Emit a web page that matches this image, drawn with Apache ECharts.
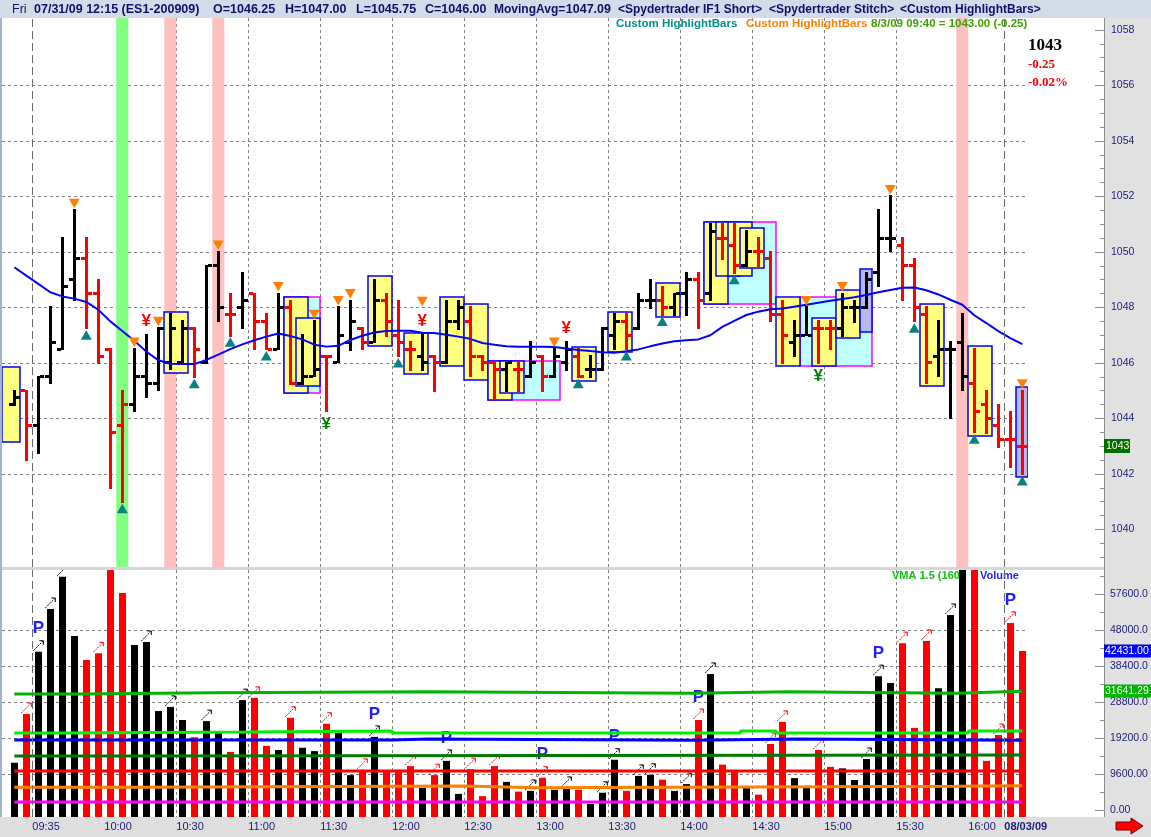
<!DOCTYPE html>
<html><head><meta charset="utf-8">
<script src="https://cdn.jsdelivr.net/npm/echarts@6/dist/echarts.min.js"></script>
<style>html,body{margin:0;padding:0;background:#fff;overflow:hidden}
.bg{position:absolute}</style>
</head><body>
<div style="position:relative;width:1151px;height:837px;background:#fff">
 <div class="bg" style="left:0;top:0;width:1151px;height:18px;background:#d3dae8"></div>
 <div class="bg" style="left:1104px;top:18px;width:47px;height:799px;background:#e1e1e1"></div>
 <div class="bg" style="left:0;top:567px;width:1104px;height:3px;background:#d6d6d6"></div>
 <div class="bg" style="left:0;top:817px;width:1151px;height:20px;background:#dedede"></div>
 <div class="bg" style="left:0;top:18px;width:2px;height:799px;background:#a4b4cc"></div>
 <div id="chart" style="position:absolute;left:0;top:0;width:1151px;height:837px"></div>
</div>
<script>
// ---------------- DATA ----------------
const timeLabels = ['09:35','10:00','10:30','11:00','11:30','12:00','12:30','13:00','13:30','14:00','14:30','15:00','15:30','16:00','08/03/09'];
const timeLabelPos = [1.5,7.5,13.5,19.5,25.5,31.5,37.5,43.5,49.5,55.5,61.5,67.5,73.5,79.5,82.5];
const gridTimePos = [7.5,13.5,19.5,25.5,31.5,37.5,43.5,49.5,55.5,61.5,67.5,73.5,79.5];
const sessionBreaks = [1.5,82.5];
const priceTicks = [1040,1042,1044,1046,1048,1050,1052,1054,1056,1058];
const volumeTicks = [0,9600,19200,28800,38400,48000,57600];

const opens = [1044.5,1045,1043.75,1045.5,1046.5,1049,1049.75,1048.5,1046.5,1043.75,
 1044.5,1045.5,1045.25,1046,1046,1047.25,1046,1049.5,1047.75,1048,
 1048.5,1047.5,1046.5,1048,1045.25,1045.5,1046.25,1046,1046.75,1047.25,
 1046.75,1048.25,1047,1046.5,1046.25,1046.25,1046,1047.5,1047.5,1046.25,
 1046,1045.75,1045.75,1045.5,1046.25,1045.5,1046,1046.25,1045.75,1045.75,
 1047,1047.5,1047.25,1048.25,1048.25,1048,1048.5,1049,1048.5,1050.5,
 1050.25,1049.5,1050,1049.75,1047.75,1046.75,1047,1047.25,1047.25,1047.25,
 1048,1048,1049.25,1050.5,1050.25,1049.5,1047.75,1046.25,1046.5,1046.75,
 1045.25,1044.5,1043.75,1043.25,1043];
const highs = [1045,1045,1045.5,1048,1050.5,1051.5,1050.5,1049,1046.5,1045,
 1046.5,1047,1047.25,1047.75,1047.5,1047.25,1049.5,1050,1048.5,1049.25,
 1048.5,1047.75,1048.5,1048.25,1047,1047.5,1046.25,1048,1048.25,1047.25,
 1049,1048.5,1048.25,1046.75,1047,1046.25,1048.25,1048.25,1048,1046.25,
 1046,1046,1046,1046.75,1046.25,1046.5,1046.75,1046.5,1046.25,1047.25,
 1047.75,1047.75,1048.5,1049,1048.75,1048.5,1049.25,1049.25,1051,1051,
 1051,1050.75,1050.5,1050,1048.25,1047.5,1048,1047.5,1047.5,1048.5,
 1048.25,1049.25,1051.5,1052,1050.5,1049.75,1048,1047.5,1046.75,1047.75,
 1046.5,1045,1044.5,1044.25,1045];
const lows = [1044.5,1042.5,1042.75,1045.25,1046.5,1048.25,1047.25,1046,1041.5,1041,
 1044.25,1044.75,1045,1045.75,1046,1045.5,1046,1047.5,1047,1047.25,
 1046.5,1046.5,1046.5,1045.25,1045.25,1045.5,1044.25,1046,1046.5,1046.5,
 1046.75,1047,1046.25,1045.75,1045.75,1045,1046,1047.25,1045.5,1045.75,
 1044.75,1045,1045,1045.5,1045,1045.5,1045.75,1045.5,1045.5,1045.75,
 1046.5,1046.5,1047.25,1048,1047.75,1047.75,1047.75,1047.25,1048.25,1049.75,
 1049.25,1049.5,1049.5,1047.5,1046,1046.25,1047,1046,1046.5,1047,
 1047.5,1048,1048.75,1050,1048.25,1047.5,1045.25,1045.5,1044,1045,
 1043.5,1043.5,1043,1042.25,1042];
const closes = [1044.75,1043.75,1045.5,1046.75,1048.75,1049.75,1048.5,1046.25,1043.5,1044.5,
 1045.5,1045.25,1047.25,1047.25,1047.25,1046.5,1049.5,1048,1047.75,1048.25,
 1047.5,1046.5,1048,1045.25,1045.5,1045.75,1046.25,1047,1047.5,1046.75,
 1048.25,1047.5,1046.75,1046.5,1046,1046,1047.5,1048,1046.25,1046,
 1045.75,1046,1045.75,1046,1045.5,1046.25,1046.5,1045.5,1045.75,1047.25,
 1047.5,1047,1048.25,1048.25,1048,1048.5,1049,1048.25,1050.75,1050.5,
 1049.5,1050,1050,1047.75,1047,1047,1047,1047.25,1047.25,1048,
 1048,1049,1050.5,1050.5,1049.5,1048,1046,1046.5,1046.5,1045.5,
 1044.25,1044,1043.25,1043.25,1043];
// 1 = black bar, -1 = red bar
const dirs = [1,-1,1,1,1,1,-1,-1,-1,-1,
 1,1,1,1,1,-1,1,1,-1,1,
 -1,-1,1,-1,1,1,-1,1,1,-1,
 1,-1,-1,-1,1,-1,1,1,-1,-1,
 -1,1,-1,1,-1,1,1,-1,1,1,
 1,-1,1,1,-1,1,1,-1,1,-1,
 -1,1,-1,-1,-1,1,1,-1,-1,1,
 1,1,1,1,-1,-1,-1,1,1,1,
 -1,-1,-1,-1,-1];
const movingAvg = [1049.45,1049.15,1048.85,1048.55,1048.40,1048.32,1048.20,1047.92,1047.50,1047.15,
 1046.80,1046.41,1046.10,1045.97,1045.96,1045.96,1046.11,1046.30,1046.50,1046.67,
 1046.82,1046.95,1047.06,1046.97,1046.85,1046.66,1046.59,1046.62,1046.83,1046.98,
 1047.10,1047.15,1047.16,1047.16,1047.09,1047.08,1047.02,1046.95,1046.87,1046.72,
 1046.66,1046.60,1046.59,1046.59,1046.59,1046.58,1046.52,1046.47,1046.43,1046.39,
 1046.37,1046.42,1046.49,1046.60,1046.70,1046.78,1046.82,1046.85,1047.00,1047.30,
 1047.52,1047.73,1047.85,1047.94,1047.96,1048.03,1048.10,1048.17,1048.24,1048.31,
 1048.37,1048.45,1048.55,1048.63,1048.71,1048.72,1048.62,1048.47,1048.28,1048.10,
 1047.72,1047.44,1047.15,1046.90,1046.68];
const volumes = [12600,25600,42200,53600,62200,46400,40000,41800,66000,57900,
 44000,44800,26400,27500,24000,19400,23700,20500,15500,29300,
 29900,17100,16000,24600,16600,15700,23000,20600,9300,10700,
 19500,10500,10700,11700,5900,9300,13100,4300,10900,3700,
 11700,7500,4900,5100,8600,5400,5900,5400,1600,4600,
 13400,5100,9100,9400,8100,5100,6900,24000,36300,12100,
 10500,5900,4100,17600,23500,8500,5900,16000,11500,11100,
 8000,13600,35700,33900,44500,21900,45100,32500,52000,68000,
 75000,13100,20000,49900,42431];

// volume indicator step lines: [bar, value]
const vmaUpper = [[0,30933],[5.5,31280],[16.5,31547],[34.5,31120],[56.5,31547],[64.5,31120],[78.5,31641.29],[84,31641.29]];
const vmaFast = [[0,20533],[3.5,20800],[19.5,21067],[31.5,20533],[60.5,21067],[63.5,20533],[79.5,21067],[84,21067]];
const vmaBlue = [[0,18667],[31.5,18933],[34.5,18587],[56.5,18933],[65.5,18587],[84,18587]];
const vmaLower = [[0,14400],[7.5,14667],[84,14667]];
const vmaRed = [[0,10400],[84,10400]];
const vmaOrange = [[0,6053],[10.5,6400],[37.5,5947],[43.5,6320],[78.5,6480],[84,6480]];
const vmaMagenta = [[0,2133],[84,2133]];

// highlight boxes: [fromBar, toBar, topPrice, bottomPrice, kind]
const highlightBoxes = [
 [23,25,1048.37,1044.91,'c'],[40,45,1046.08,1044.66,'c'],[58,63,1051.09,1048.15,'c'],[66,71,1048.37,1045.87,'c'],
 [-0.5,0,1045.86,1043.15,'y'],[13,14,1047.84,1045.63,'y'],[23,24,1048.37,1044.91,'y'],[24,25,1047.61,1045.15,'y'],
 [30,31,1049.14,1046.62,'y'],[33,34,1047.09,1045.63,'y'],[36,37,1048.37,1045.87,'y'],[38,39,1048.12,1045.39,'y'],
 [40,41,1046.08,1044.66,'y'],[41,42,1046.08,1044.91,'y'],[47,48,1046.59,1045.38,'y'],[50,51,1047.85,1046.41,'y'],
 [54,55,1048.87,1047.65,'y'],[58,59,1051.09,1048.15,'y'],[59,60,1051.09,1049.16,'y'],[60,61,1051.09,1049.16,'y'],
 [61,62,1050.85,1049.41,'y'],[64,65,1048.37,1045.87,'y'],[67,68,1047.61,1045.87,'y'],[69,70,1048.63,1046.89,'y'],
 [76,77,1048.12,1045.15,'y'],[80,81,1046.61,1043.38,'y'],
 [71,71,1049.39,1047.13,'l'],[84,84,1045.12,1041.88,'l']
];
const greenBands = [9];
const pinkBands = [13,17,79];
const buyTriangles = [6,9,15,18,21,32,47,51,54,60,75,80,84];
const sellTriangles = [5,10,12,17,22,25,27,28,34,45,66,69,73,84];
const redYen = [11,34,46];
const greenYen = [26,67];
const volArrows = [1,2,3,4,7,11,13,16,19,20,23,26,29,30,33,35,36,38,40,43,44,46,49,50,52,53,56,57,58,63,64,67,71,72,74,76,78,82,83];
const volP = [2,30,36,44,50,57,72,83];

// ---------------- CHART ----------------
const X_MIN = -1.025, X_MAX = 84.433;
const P_MIN = 1038.6486, P_MAX = 1058.4324;
const V_MIN = -1866.67, V_MAX = 64000;
const NAVY = '#1c1c7c';
const FF = '"Liberation Sans", Arial, sans-serif';
const priceMinor = []; for (let v = 1039; v <= 1058; v += 0.5) priceMinor.push(v);
const volMinor = []; for (let v = 4800; v < 64000; v += 9600) volMinor.push(v);
const gridDash = {color:'#808080', type:[3,3], width:1};
function sessionLine(){
  return {silent:true, symbol:['none','none'], label:{show:false}, lineStyle:{color:'#6a6a6a', type:[8,4], width:1},
    data: sessionBreaks.map(v => ({xAxis: v}))};
}

const chart = echarts.init(document.getElementById('chart'));

function colorOf(i){ return dirs[i] > 0 ? '#000000' : '#ff0000'; }

function bandRender(color){
  return function(params, api){
    const i = api.value(0);
    const a = api.coord([i - 0.5, P_MAX]), b = api.coord([i + 0.5, P_MIN]);
    return {type:'rect', shape:{x:a[0], y:a[1], width:b[0]-a[0], height:b[1]-a[1]}, style:{fill:color}};
  };
}
function boxRender(params, api){
  const bx = highlightBoxes[params.dataIndex];
  const p0 = api.coord([bx[0] - 0.5, bx[2]]), p1 = api.coord([bx[1] + 0.5, bx[3]]);
  const k = bx[4];
  const st = k === 'c' ? {fill:'#c0ffff', stroke:'#ff00ff'} : (k === 'l' ? {fill:'#b8b8f0', stroke:'#0000ff'} : {fill:'#ffff80', stroke:'#0000ff'});
  st.lineWidth = 1.5;
  return {type:'rect', shape:{x:Math.round(p0[0]), y:Math.round(p0[1]), width:Math.round(p1[0]-p0[0]), height:Math.round(p1[1]-p0[1])}, style:st};
}
function ohlcRender(params, api){
  const i = api.value(0);
  const pO = api.coord([i, api.value(1)]), pH = api.coord([i, api.value(2)]);
  const pL = api.coord([i, api.value(3)]), pC = api.coord([i, api.value(4)]);
  const col = colorOf(i);
  const x = Math.round(pH[0] - 1.5);
  return {type:'group', children:[
    {type:'rect', shape:{x:x, y:Math.round(pH[1]) - 1, width:3, height:Math.round(pL[1]-pH[1]) + 2}, style:{fill:col}},
    {type:'rect', shape:{x:x-4, y:Math.round(pO[1] - 1.5), width:4, height:3}, style:{fill:col}},
    {type:'rect', shape:{x:x+3, y:Math.round(pC[1] - 1.5), width:4, height:3}, style:{fill:col}}
  ]};
}
function buyTriRender(params, api){
  const i = api.value(0);
  const p = api.coord([i, lows[i]]);
  const x = p[0], y = p[1];
  return {type:'polygon', shape:{points:[[x, y+2],[x+5.5, y+11.5],[x-5.5, y+11.5]]}, style:{fill:'#0a8080'}};
}
function sellTriRender(params, api){
  const i = api.value(0);
  const p = api.coord([i, highs[i]]);
  const extra = redYen.indexOf(i) >= 0 ? 27 : 0;
  const x = p[0], y = p[1] - extra;
  return {type:'polygon', shape:{points:[[x, y-2],[x+5.5, y-11.5],[x-5.5, y-11.5]]}, style:{fill:'#ff8000'}};
}
function yenRender(isRed){
  return function(params, api){
    const i = api.value(0);
    const p = api.coord([i, isRed ? highs[i] : lows[i]]);
    return {type:'text', style:{text:'¥', x:p[0], y: isRed ? p[1]-14 : p[1]+13, align:'center', verticalAlign:'middle',
      font:'bold 17px ' + FF, fill: isRed ? '#ff0000' : '#008000'}};
  };
}
function volRender(params, api){
  const i = api.value(0);
  const p = api.coord([i, api.value(1)]);
  const cs = params.coordSys;
  const top = Math.max(p[1], cs.y);
  const bottom = cs.y + cs.height;
  return {type:'rect', shape:{x:Math.round(p[0] - 3.5), y:top, width:7, height:bottom - top}, style:{fill:colorOf(i)}};
}
function arrowRender(params, api){
  const i = api.value(0);
  const p = api.coord([i, volumes[i]]);
  const cs = params.coordSys;
  const top = Math.max(p[1], cs.y);
  const col = colorOf(i);
  const x0 = p[0] - 5, y0 = top - 1, x1 = p[0] + 5, y1 = top - 11;
  return {type:'group', children:[
    {type:'line', shape:{x1:x0, y1:y0, x2:x1, y2:y1}, style:{stroke:col, lineWidth:1, lineDash:[2,1]}},
    {type:'polyline', shape:{points:[[x1-4, y1],[x1, y1],[x1, y1+4]]}, style:{stroke:col, lineWidth:1, fill:null}}
  ]};
}
function pRender(params, api){
  const i = api.value(0);
  const p = api.coord([i, volumes[i]]);
  return {type:'text', style:{text:'P', x:p[0], y:p[1]-23, align:'center', verticalAlign:'middle', font:'bold 17px ' + FF, fill:'#1e1eff'}};
}
function volFmt(v){ let s = v.toFixed(2); if (s.length > 7) s = v.toFixed(1); return s; }

const stepLine = (data, color) => ({type:'line', xAxisIndex:1, yAxisIndex:2, data:data, step:'end', symbol:'none', z:4,
  lineStyle:{color:color, width:3}, silent:true});

const hiddenLine = {show:false, onZero:false};
const option = {
  animation: false,
  grid: [
    {left:2, right:123.5, top:18, height:549},
    {left:2, right:123.5, top:570, height:247}
  ],
  xAxis: [
    {type:'value', gridIndex:0, min:X_MIN, max:X_MAX, axisLine:hiddenLine,
     axisTick:{show:false, customValues:gridTimePos}, axisLabel:{show:false},
     splitLine:{show:true, showMinLine:false, showMaxLine:false, lineStyle:gridDash}},
    {type:'value', gridIndex:1, min:X_MIN, max:X_MAX, axisLine:hiddenLine,
     axisTick:{show:false, customValues:gridTimePos},
     axisLabel:{show:true, customValues:timeLabelPos, align:'left', margin:4, color:NAVY, fontSize:11, fontFamily:FF,
       formatter: function(v){ const k = timeLabelPos.indexOf(v); const t = k >= 0 ? timeLabels[k] : ''; return t.indexOf('/') >= 0 ? '{b|' + t + '}' : t; },
       rich:{b:{fontWeight:'bold', color:NAVY, fontSize:11, fontFamily:FF}}},
     splitLine:{show:true, showMinLine:false, showMaxLine:false, lineStyle:gridDash}}
  ],
  yAxis: [
    {type:'value', gridIndex:0, position:'right', offset:76.5, min:P_MIN, max:P_MAX,
     axisLine:hiddenLine,
     axisTick:{show:true, inside:true, length:9, customValues:priceTicks, lineStyle:{color:'#8c8c8c'}},
     axisLabel:{customValues:priceTicks, margin:7, color:NAVY, fontSize:10.5, fontFamily:FF, formatter:v => String(v)},
     splitLine:{show:true, showMinLine:false, showMaxLine:false, lineStyle:gridDash}},
    {type:'value', gridIndex:0, position:'right', offset:76.5, min:P_MIN, max:P_MAX,
     axisLine:hiddenLine, axisTick:{show:true, inside:true, length:4, customValues:priceMinor, lineStyle:{color:'#8c8c8c'}},
     axisLabel:{show:false}, splitLine:{show:false}},
    {type:'value', gridIndex:1, position:'right', offset:76.5, min:V_MIN, max:V_MAX,
     axisLine:hiddenLine,
     axisTick:{show:true, inside:true, length:9, customValues:volumeTicks, lineStyle:{color:'#8c8c8c'}},
     axisLabel:{customValues:volumeTicks, margin:6, color:NAVY, fontSize:10.5, fontFamily:FF, formatter:volFmt},
     splitLine:{show:true, showMinLine:false, showMaxLine:false, lineStyle:gridDash}},
    {type:'value', gridIndex:1, position:'right', offset:76.5, min:V_MIN, max:V_MAX,
     axisLine:hiddenLine, axisTick:{show:true, inside:true, length:4, customValues:volMinor, lineStyle:{color:'#8c8c8c'}},
     axisLabel:{show:false}, splitLine:{show:false}}
  ],
  series: [
    {type:'custom', name:'greenBand', xAxisIndex:0, yAxisIndex:0, z:1, silent:true, renderItem:bandRender('#80ff80'),
     data:greenBands.map(i => [i, P_MAX]), encode:{x:0, y:1}},
    {type:'custom', name:'pinkBand', xAxisIndex:0, yAxisIndex:0, z:1, silent:true, renderItem:bandRender('#ffc0c0'),
     data:pinkBands.map(i => [i, P_MAX]), encode:{x:0, y:1}},
    {type:'custom', name:'boxes', xAxisIndex:0, yAxisIndex:0, z:2, silent:true, clip:true, renderItem:boxRender,
     data:highlightBoxes.map(b => [b[0], b[1], b[2], b[3]]), encode:{x:[0,1], y:[2,3]}},
    {type:'custom', name:'ohlc', xAxisIndex:0, yAxisIndex:0, z:3, silent:true, renderItem:ohlcRender,
     data:opens.map((o,i) => [i, o, highs[i], lows[i], closes[i]]), encode:{x:0, y:[1,2,3,4]}},
    {type:'line', name:'MovingAvg', xAxisIndex:0, yAxisIndex:0, z:4, silent:true, symbol:'none',
     data:movingAvg.map((v,i) => [i, v]), lineStyle:{color:'#0000ff', width:2}, markLine:sessionLine()},
    {type:'custom', name:'buy', xAxisIndex:0, yAxisIndex:0, z:5, silent:true, renderItem:buyTriRender,
     data:buyTriangles.map(i => [i, lows[i]]), encode:{x:0, y:1}},
    {type:'custom', name:'sell', xAxisIndex:0, yAxisIndex:0, z:5, silent:true, renderItem:sellTriRender,
     data:sellTriangles.map(i => [i, highs[i]]), encode:{x:0, y:1}},
    {type:'custom', name:'redYen', xAxisIndex:0, yAxisIndex:0, z:5, silent:true, renderItem:yenRender(true),
     data:redYen.map(i => [i, highs[i]]), encode:{x:0, y:1}},
    {type:'custom', name:'greenYen', xAxisIndex:0, yAxisIndex:0, z:5, silent:true, renderItem:yenRender(false),
     data:greenYen.map(i => [i, lows[i]]), encode:{x:0, y:1}},
    {type:'custom', name:'Volume', xAxisIndex:1, yAxisIndex:2, z:2, silent:true, renderItem:volRender,
     data:volumes.map((v,i) => [i, v]), encode:{x:0, y:1}},
    {type:'custom', name:'arrows', xAxisIndex:1, yAxisIndex:2, z:3, silent:true, clip:true, renderItem:arrowRender,
     data:volArrows.map(i => [i, volumes[i]]), encode:{x:0, y:1}},
    {type:'custom', name:'P', xAxisIndex:1, yAxisIndex:2, z:3, silent:true, renderItem:pRender,
     data:volP.map(i => [i, volumes[i]]), encode:{x:0, y:1}},
    Object.assign(stepLine(vmaMagenta, '#ff00ff'), {markLine:sessionLine()}),
    stepLine(vmaOrange, '#ff8000'),
    stepLine(vmaRed, '#ff0000'),
    stepLine(vmaLower, '#007800'),
    stepLine(vmaBlue, '#0000ff'),
    stepLine(vmaFast, '#00f000'),
    stepLine(vmaUpper, '#00b400')
  ]
};
chart.setOption(option);

// ---------------- TEXT / LABELS ----------------
const cur = 34, last = opens.length - 1;
const chg = closes[last] - closes[last - 1];
const f2 = v => v.toFixed(2);
const yClose = chart.convertToPixel({yAxisIndex:0}, closes[last]);
const yVol = chart.convertToPixel({yAxisIndex:2}, volumes[last]);
const yVma = chart.convertToPixel({yAxisIndex:2}, vmaUpper[vmaUpper.length - 1][1]);
const hFont = 'bold 12.5px ' + FF;
const t = (x, y, text, font, fill, extra) => Object.assign({type:'text', z:100, silent:true, x:x, y:y,
  style:{text:text, font:font, fill:fill, verticalAlign:'middle', align:'left'}}, extra || {});
const graphic = [
  {type:'line', z:100, silent:true, shape:{x1:1104.5, y1:18, x2:1104.5, y2:817}, style:{stroke:'#8c8c8c', lineWidth:1}},
  t(12, 10, 'Fri', '12.5px ' + FF, '#10106a'),
  t(34, 10, '07/31/09 12:15 (ES1-200909)', hFont, '#10106a'),
  t(213, 10, 'O=' + f2(opens[cur]), hFont, '#10106a'),
  t(285, 10, 'H=' + f2(highs[cur]), hFont, '#10106a'),
  t(356, 10, 'L=' + f2(lows[cur]), hFont, '#10106a'),
  t(425, 10, 'C=' + f2(closes[cur]), hFont, '#10106a'),
  t(494, 10, 'MovingAvg=', 'bold 12px ' + FF, '#10106a'),
  {type:'text', z:100, silent:true, x:611, y:10, style:{text:f2(movingAvg[cur]), font:hFont, fill:'#10106a', verticalAlign:'middle', align:'right'}},
  t(618, 10, '<Spydertrader IF1 Short>', 'bold 12px ' + FF, '#10106a'),
  t(769, 10, '<Spydertrader Stitch>', 'bold 12px ' + FF, '#10106a'),
  t(900, 10, '<Custom HighlightBars>', 'bold 12px ' + FF, '#10106a'),
  t(616, 24, 'Custom HighlightBars', 'bold 11.5px ' + FF, '#008f8f'),
  t(746, 24, 'Custom HighlightBars', 'bold 11.5px ' + FF, '#ff8000'),
  t(871, 24, '8/3/09 09:40 = ' + f2(closes[last]) + ' (' + f2(chg) + ')', 'bold 11.5px ' + FF, '#40a000'),
  t(1028, 46, String(closes[last]), 'bold 17px "Liberation Serif", serif', '#000000'),
  t(1028, 65, f2(chg), 'bold 13px "Liberation Serif", serif', '#ff0000'),
  t(1028, 83, (chg / closes[last - 1] * 100).toFixed(2) + '%', 'bold 13px "Liberation Serif", serif', '#ff0000'),
  t(892, 576, 'VMA 1.5 (160)', 'bold 11px ' + FF, '#10c010', {z:1}),
  t(980, 576, 'Volume', 'bold 11px ' + FF, '#1e1eff', {z:1}),
  {type:'rect', z:100, silent:true, shape:{x:1104, y:Math.round(yClose) - 7, width:26, height:14}, style:{fill:'#006f00'}},
  t(1106, yClose, String(closes[last]), '10.5px ' + FF, '#ffffe0'),
  {type:'rect', z:100, silent:true, shape:{x:1104, y:Math.round(yVol) - 6.5, width:47, height:13}, style:{fill:'#0000ff'}},
  t(1105, yVol, f2(volumes[last]), '10.5px ' + FF, '#ffffff'),
  {type:'rect', z:100, silent:true, shape:{x:1104, y:Math.round(yVma) - 6.5, width:47, height:13}, style:{fill:'#00b400'}},
  t(1105, yVma, f2(vmaUpper[vmaUpper.length - 1][1]), '10.5px ' + FF, '#ffffff'),
  {type:'polygon', z:100, silent:true, shape:{points:[[1116,822],[1131,822],[1131,818],[1143,826],[1131,834],[1131,830],[1116,830]]},
   style:{fill:'#ff0000', stroke:'#800000', lineWidth:1}}
];
chart.setOption({graphic: graphic});
</script>
</body></html>
